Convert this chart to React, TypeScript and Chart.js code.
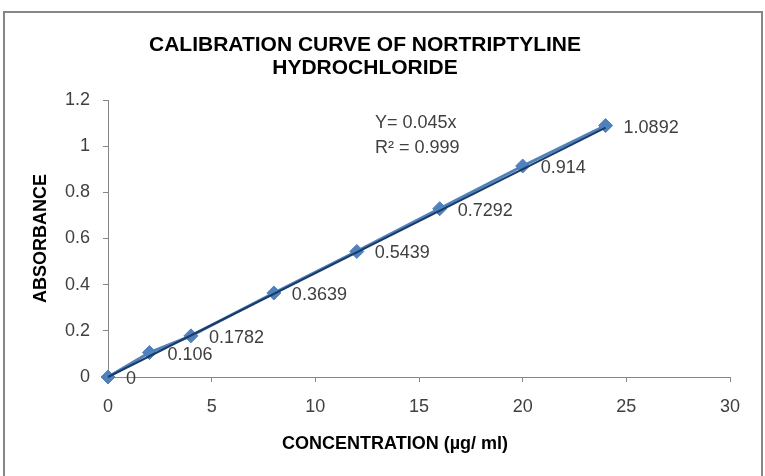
import React, { useEffect, useRef } from "react";
import { Chart, registerables } from "chart.js";

Chart.register(...registerables);

const concentrations = [0, 2, 4, 8, 12, 16, 20, 24];
const absorbances = [0, 0.106, 0.1782, 0.3639, 0.5439, 0.7292, 0.914, 1.0892];
const pointLabels = ["0", "0.106", "0.1782", "0.3639", "0.5439", "0.7292", "0.914", "1.0892"];
const trendSlope = 0.045;
const titleLines = ["CALIBRATION CURVE OF NORTRIPTYLINE", "HYDROCHLORIDE"];
const equationLines = ["Y= 0.045x", "R² = 0.999"];
const xAxisTitle = "CONCENTRATION (µg/ ml)";
const yAxisTitle = "ABSORBANCE";
const xTicks = [0, 5, 10, 15, 20, 25, 30];
const yTicks = [0, 0.2, 0.4, 0.6, 0.8, 1, 1.2];

const FONT = "'Liberation Sans', Arial, sans-serif";
const TEXT = "#404040";
const AXIS = "#868686";

export default function App() {
  const ref = useRef<HTMLCanvasElement | null>(null);
  useEffect(() => {
    if (!ref.current) return;
    const seriesPts = concentrations.map((x, i) => ({ x, y: absorbances[i] }));
    const xEnd = concentrations[concentrations.length - 1];
    const trendPts = [
      { x: concentrations[0], y: trendSlope * concentrations[0] },
      { x: xEnd, y: trendSlope * xEnd },
    ];

    const decor = {
      id: "decor",
      beforeDraw(chart: any) {
        const ctx = chart.ctx;
        ctx.save();
        ctx.fillStyle = "#ffffff";
        ctx.fillRect(0, 0, chart.width, chart.height);
        ctx.strokeStyle = AXIS;
        ctx.lineWidth = 2;
        ctx.strokeRect(4, 12, 758, 480);
        ctx.restore();
      },
      afterDatasetsDraw(chart: any) {
        const ctx = chart.ctx;
        const xs = chart.scales.x;
        const ys = chart.scales.y;
        ctx.save();
        // title
        ctx.fillStyle = "#000000";
        ctx.font = `bold 21px ${FONT}`;
        ctx.textAlign = "center";
        ctx.textBaseline = "middle";
        ctx.fillText(titleLines[0], 365, 45);
        ctx.fillText(titleLines[1], 365, 68);
        // axis titles
        ctx.font = `bold 18px ${FONT}`;
        ctx.fillText(xAxisTitle, (xs.left + xs.right) / 2 - 24, 444);
        ctx.save();
        ctx.translate(41, (ys.top + ys.bottom) / 2);
        ctx.rotate(-Math.PI / 2);
        ctx.fillText(yAxisTitle, 0, 0);
        ctx.restore();
        // data labels
        ctx.fillStyle = TEXT;
        ctx.font = `18px ${FONT}`;
        ctx.textAlign = "left";
        ctx.textBaseline = "middle";
        const meta = chart.getDatasetMeta(1);
        meta.data.forEach((pt: any, i: number) => {
          ctx.fillText(pointLabels[i], pt.x + 18, pt.y + 2);
        });
        // equation
        ctx.fillText(equationLines[0], 375, 123);
        ctx.fillText(equationLines[1], 375, 148);
        ctx.restore();
      },
    };

    const chart = new Chart(ref.current, {
      type: "scatter",
      data: {
        datasets: [
          {
            label: "Linear trend",
            data: trendPts,
            showLine: true,
            borderColor: "#1B3A66",
            borderWidth: 2,
            pointRadius: 0,
            clip: false,
            order: 0,
          },
          {
            label: "Absorbance",
            data: seriesPts,
            showLine: true,
            borderColor: "#4F81BD",
            backgroundColor: "#4F81BD",
            borderWidth: 3,
            pointStyle: "rectRot",
            pointRadius: 7,
            pointBorderWidth: 1,
            clip: false,
            order: 1,
          },
        ],
      },
      options: {
        animation: false,
        responsive: false,
        maintainAspectRatio: false,
        layout: { padding: { top: 100, right: 35, left: 0, bottom: 0 } },
        plugins: {
          legend: { display: false },
          tooltip: { enabled: false },
          title: { display: false },
        },
        scales: {
          x: {
            type: "linear",
            min: xTicks[0],
            max: xTicks[xTicks.length - 1],
            afterBuildTicks(scale: any) {
              scale.ticks = xTicks.map((v) => ({ value: v }));
            },
            afterFit(scale: any) {
              scale.height = 99;
            },
            grid: { drawOnChartArea: false, drawTicks: true, tickLength: 5, color: AXIS },
            border: { display: true, color: AXIS, width: 1 },
            ticks: { color: TEXT, font: { family: FONT, size: 18 }, padding: 14, maxRotation: 0 },
          },
          y: {
            type: "linear",
            min: yTicks[0],
            max: yTicks[yTicks.length - 1],
            afterBuildTicks(scale: any) {
              scale.ticks = yTicks.map((v) => ({ value: v }));
            },
            afterFit(scale: any) {
              scale.width = 108;
            },
            grid: { drawOnChartArea: false, drawTicks: true, tickLength: 5, color: AXIS },
            border: { display: true, color: AXIS, width: 1 },
            ticks: {
              color: TEXT,
              font: { family: FONT, size: 18 },
              padding: 13,
              callback: (v: any) => String(Number(Number(v).toFixed(1))),
            },
          },
        },
      },
      plugins: [decor],
    });
    return () => chart.destroy();
  }, []);

  return (
    <div style={{ position: "absolute", left: 0, top: 0, width: 765, height: 476 }}>
      <canvas ref={ref} width={765} height={476} />
    </div>
  );
}
